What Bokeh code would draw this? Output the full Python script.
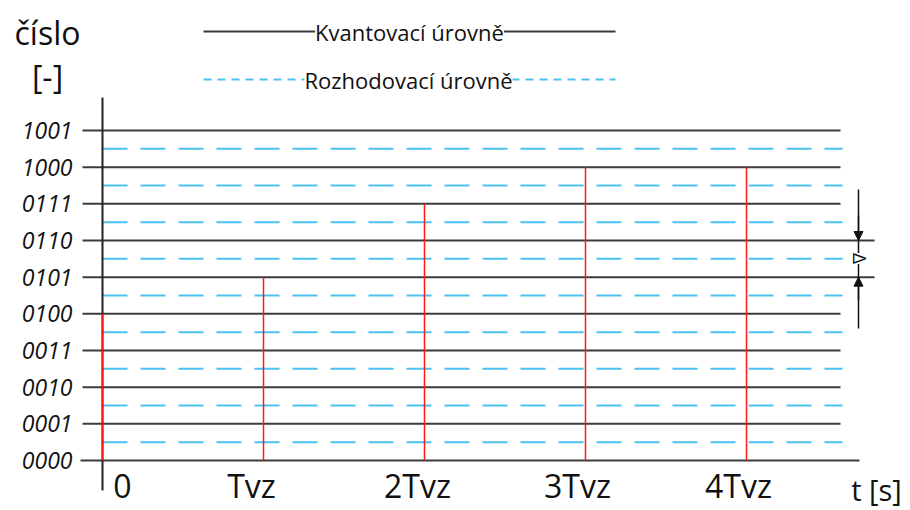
import math
from bokeh.plotting import figure
from bokeh.models import Range1d, Arrow, NormalHead, ColumnDataSource
from bokeh.core.properties import value
from bokeh.embed import file_html
from bokeh.resources import INLINE

# ---------------- data ----------------
levels = [0, 1, 2, 3, 4, 5, 6, 7, 8, 9]
level_labels = ["0000", "0001", "0010", "0011", "0100", "0101", "0110", "0111", "1000", "1001"]
decision_levels = [0.5, 1.5, 2.5, 3.5, 4.5, 5.5, 6.5, 7.5, 8.5]
sample_times = [0, 1, 2, 3, 4]
sample_values = [4, 5, 7, 8, 8]
time_labels = ["0", "Tvz", "2Tvz", "3Tvz", "4Tvz"]
legend_labels = ["Kvantovací úrovně", "Rozhodovací úrovně"]
y_title = ["číslo", "[-]"]
x_title = "t [s]"

# ---------------- geometry / style ----------------
W, H = 910, 510
PX = 161.0          # pixels per sampling period
PY = 36.67          # pixels per quantisation level
OX, OY = 102, 460   # canvas pixel of (t=0, level 0)


def tx(px):
    return (px - OX) / PX


def ty(py):
    return (OY - py) / PY


FONT = "Open Sans"
GRID_COL = "#3c3c3c"
CYAN = "#4cc2f0"
RED = "#ff1a1a"
TXT = "#111111"

p = figure(width=W, height=H, output_backend="svg", toolbar_location=None,
           x_range=Range1d(tx(0), tx(W)), y_range=Range1d(ty(H), ty(0)),
           x_axis_location=None, y_axis_location=None,
           min_border_left=0, min_border_right=0, min_border_top=0, min_border_bottom=0)
p.outline_line_color = None
p.xgrid.visible = False
p.ygrid.visible = False
p.background_fill_color = "white"

# quantisation levels (solid) incl. the tick stubs left of the axis
level_start_px = [80, 82, 82, 82, 82, 82, 82, 82, 82, 82]
level_end_px = [859, 840, 840, 840, 840, 874, 874, 840, 840, 840]
p.segment(x0=[tx(s) for s in level_start_px], y0=levels,
          x1=[tx(e) for e in level_end_px], y1=levels,
          line_color=GRID_COL, line_width=2)

# decision levels (dashed)
p.segment(x0=[0] * len(decision_levels), y0=decision_levels,
          x1=[tx(842)] * len(decision_levels), y1=decision_levels,
          line_color=CYAN, line_width=2, line_dash="25 13")

# vertical axis line
p.segment(x0=[0], y0=[ty(490)], x1=[0], y1=[ty(97)], line_color="#222222", line_width=2)

# y tick labels
p.text(x=[tx(72)] * len(levels), y=levels, text=level_labels, text_align="right",
       text_baseline="middle", text_font=value(FONT), text_font_style="italic",
       text_font_size="23px", text_color=TXT)

# samples
p.segment(x0=sample_times, y0=[0] * len(sample_times), x1=sample_times, y1=sample_values,
          line_color=RED, line_width=1.5)

# x labels
label_dx = [20, -12, -7, -8, -8]
src = ColumnDataSource(dict(x=sample_times, y=[ty(485)] * len(sample_times),
                            t=time_labels, dx=label_dx))
p.text(x="x", y="y", text="t", x_offset="dx", source=src, text_align="center",
       text_baseline="middle", text_font=value(FONT), text_font_size="32px",
       text_color=TXT)
p.text(x=[tx(876)], y=[ty(489)], text=[x_title], text_align="center",
       text_baseline="middle", text_font=value(FONT), text_font_size="29px",
       text_color=TXT)

# delta marker at the right
p.segment(x0=[tx(858)], y0=[ty(189)], x1=[tx(858)], y1=[ty(328)], line_color="#111111", line_width=1.5)
p.add_layout(Arrow(x_start=tx(858), y_start=ty(215), x_end=tx(858), y_end=6,
                   line_color="#111111", line_width=1.5,
                   end=NormalHead(size=9, fill_color="#111111", line_color="#111111")))
p.add_layout(Arrow(x_start=tx(858), y_start=ty(300), x_end=tx(858), y_end=5,
                   line_color="#111111", line_width=1.5,
                   end=NormalHead(size=9, fill_color="#111111", line_color="#111111")))
p.text(x=[tx(859)], y=[ty(258)], text=["Δ"], angle=-math.pi / 2, text_align="center",
       text_baseline="middle", text_font=value(FONT), text_font_size="19px",
       text_color="#111111", background_fill_color="white")

# legend
p.segment(x0=[tx(203)], y0=[ty(31)], x1=[tx(615)], y1=[ty(31)], line_color=GRID_COL, line_width=2)
p.segment(x0=[tx(203)], y0=[ty(79)], x1=[tx(615)], y1=[ty(79)], line_color=CYAN, line_width=2,
          line_dash="8 6")
p.text(x=[tx(409), tx(408)], y=[ty(31), ty(79)], text=legend_labels, text_align="center",
       text_baseline="middle", text_font=value(FONT), text_font_size="22px",
       text_color=TXT, background_fill_color="white")

# y title
p.text(x=[tx(47), tx(47)], y=[ty(32), ty(76)], text=y_title, text_align="center",
       text_baseline="middle", text_font=value(FONT), text_font_size="32px",
       text_color=TXT)

open("out.html", "w").write(file_html(p, INLINE))
